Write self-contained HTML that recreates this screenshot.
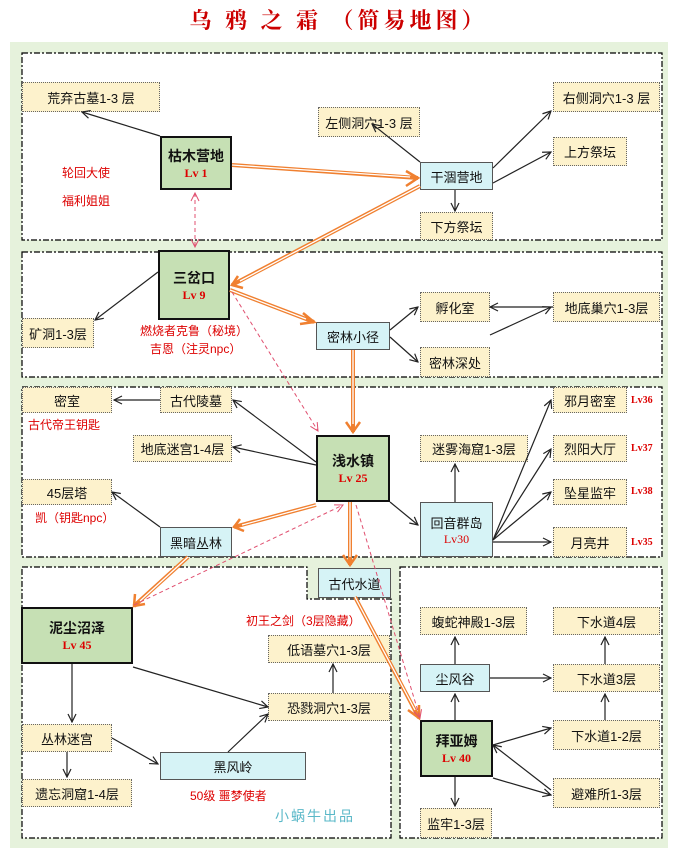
<!DOCTYPE html>
<html><head><meta charset="utf-8"><style>
body{margin:0;width:677px;height:855px;background:#fff;position:relative;overflow:hidden;font-family:"Liberation Sans","Noto Sans CJK SC",sans-serif;}
.t{position:absolute;left:0;width:677px;top:4px;text-align:center;font:bold 22px "Liberation Serif","Noto Serif CJK SC",serif;color:#c00;letter-spacing:4px}
.bg{position:absolute;left:10px;top:42px;width:658px;height:806px;background:#e6f2dc}
.b{position:absolute;box-sizing:border-box;display:flex;align-items:center;justify-content:center;flex-direction:column;font-size:13px;color:#111;white-space:nowrap}
.y{background:#fdf2cc;border:1px dotted #666}
.c{background:#d6f3f6;border:1px solid #555}
.g{background:#c6e0b4;border:2px solid #111;font-weight:bold;font-size:14px}
.g i,.c i{font-style:normal;color:#d00;font-size:12px;font-family:"Liberation Serif","Noto Serif CJK SC",serif}
.c i{font-weight:normal}
.r{position:absolute;color:#d00;font-size:12px;white-space:nowrap}
.lv{position:absolute;color:#d00;font-size:10px;font-weight:bold;font-family:"Liberation Serif",serif}
svg{position:absolute;left:0;top:0}
</style></head><body>
<div class="t">乌 鸦 之 霜 （简易地图）</div>
<div class="bg"></div>
<svg width="677" height="855">
<g fill="#fff" stroke="#000" stroke-dasharray="6,2,2,2" stroke-width="1.2">
<rect x="22" y="53" width="640" height="187"/>
<rect x="22" y="252" width="640" height="125"/>
<rect x="22" y="387" width="640" height="170"/>
<path d="M22 567H307V599H391V838H22Z"/>
<rect x="400" y="567" width="262" height="271"/>
</g>
</svg>
<div class="b y" style="left:22px;top:82px;width:138px;height:30px">荒弃古墓1-3 层</div>
<div class="b g" style="left:160px;top:136px;width:72px;height:54px">枯木营地<i>Lv 1</i></div>
<div class="r" style="left:62px;top:164px">轮回大使</div>
<div class="r" style="left:62px;top:192px">福利姐姐</div>
<div class="b y" style="left:318px;top:107px;width:102px;height:30px">左侧洞穴1-3 层</div>
<div class="b c" style="left:420px;top:162px;width:73px;height:28px">干涸营地</div>
<div class="b y" style="left:553px;top:82px;width:107px;height:30px">右侧洞穴1-3 层</div>
<div class="b y" style="left:553px;top:137px;width:74px;height:29px">上方祭坛</div>
<div class="b y" style="left:420px;top:212px;width:73px;height:28px">下方祭坛</div>

<div class="b g" style="left:158px;top:250px;width:72px;height:70px">三岔口<i>Lv 9</i></div>
<div class="b y" style="left:22px;top:318px;width:72px;height:30px">矿洞1-3层</div>
<div class="r" style="left:140px;top:322px">燃烧者克鲁（秘境）</div>
<div class="r" style="left:150px;top:340px">吉恩（注灵npc）</div>
<div class="b c" style="left:316px;top:322px;width:74px;height:28px">密林小径</div>
<div class="b y" style="left:420px;top:292px;width:70px;height:30px">孵化室</div>
<div class="b y" style="left:553px;top:292px;width:107px;height:30px">地底巢穴1-3层</div>
<div class="b y" style="left:420px;top:347px;width:70px;height:30px">密林深处</div>

<div class="b y" style="left:22px;top:387px;width:90px;height:26px">密室</div>
<div class="r" style="left:28px;top:416px">古代帝王钥匙</div>
<div class="b y" style="left:160px;top:387px;width:72px;height:26px">古代陵墓</div>
<div class="b y" style="left:133px;top:435px;width:99px;height:27px">地底迷宫1-4层</div>
<div class="b g" style="left:316px;top:435px;width:74px;height:67px">浅水镇<i>Lv 25</i></div>
<div class="b y" style="left:420px;top:435px;width:108px;height:27px">迷雾海窟1-3层</div>
<div class="b y" style="left:22px;top:479px;width:90px;height:26px">45层塔</div>
<div class="r" style="left:35px;top:509px">凯（钥匙npc）</div>
<div class="b c" style="left:160px;top:527px;width:72px;height:30px">黑暗丛林</div>
<div class="b c" style="left:420px;top:502px;width:73px;height:55px">回音群岛<i>Lv30</i></div>
<div class="b y" style="left:553px;top:387px;width:74px;height:26px">邪月密室</div>
<div class="b y" style="left:553px;top:435px;width:74px;height:27px">烈阳大厅</div>
<div class="b y" style="left:553px;top:479px;width:74px;height:26px">坠星监牢</div>
<div class="b y" style="left:553px;top:527px;width:74px;height:30px">月亮井</div>
<div class="lv" style="left:631px;top:395px">Lv36</div>
<div class="lv" style="left:631px;top:443px">Lv37</div>
<div class="lv" style="left:631px;top:486px">Lv38</div>
<div class="lv" style="left:631px;top:537px">Lv35</div>

<div class="b c" style="left:318px;top:568px;width:73px;height:30px">古代水道</div>
<div class="b g" style="left:21px;top:607px;width:112px;height:57px">泥尘沼泽<i>Lv 45</i></div>
<div class="r" style="left:246px;top:612px">初王之剑（3层隐藏）</div>
<div class="b y" style="left:268px;top:635px;width:122px;height:28px">低语墓穴1-3层</div>
<div class="b y" style="left:268px;top:693px;width:122px;height:28px">恐戮洞穴1-3层</div>
<div class="b y" style="left:22px;top:724px;width:90px;height:28px">丛林迷宫</div>
<div class="b y" style="left:22px;top:779px;width:110px;height:28px">遗忘洞窟1-4层</div>
<div class="b c" style="left:160px;top:752px;width:146px;height:28px">黑风岭</div>
<div class="r" style="left:190px;top:787px">50级 噩梦使者</div>
<div class="r" style="left:275px;top:806px;color:#5ab8c8;font-size:14px;letter-spacing:2px">小蜗牛出品</div>
<div class="b y" style="left:420px;top:607px;width:107px;height:28px">蝮蛇神殿1-3层</div>
<div class="b c" style="left:420px;top:664px;width:70px;height:28px">尘风谷</div>
<div class="b g" style="left:420px;top:720px;width:73px;height:57px">拜亚姆<i>Lv 40</i></div>
<div class="b y" style="left:420px;top:808px;width:72px;height:30px">监牢1-3层</div>
<div class="b y" style="left:553px;top:607px;width:107px;height:28px">下水道4层</div>
<div class="b y" style="left:553px;top:664px;width:107px;height:28px">下水道3层</div>
<div class="b y" style="left:553px;top:720px;width:107px;height:30px">下水道1-2层</div>
<div class="b y" style="left:553px;top:778px;width:107px;height:30px">避难所1-3层</div>

<svg width="677" height="855">
<defs>
<marker id="a" markerWidth="10" markerHeight="10" refX="9" refY="5" orient="auto" markerUnits="userSpaceOnUse"><path d="M1 1L9 5L1 9" fill="none" stroke="#222" stroke-width="1.2"/></marker>
<marker id="p" markerWidth="10" markerHeight="10" refX="9" refY="5" orient="auto" markerUnits="userSpaceOnUse"><path d="M1 1L9 5L1 9" fill="none" stroke="#e05070" stroke-width="1"/></marker>
<marker id="ps" markerWidth="10" markerHeight="10" refX="1" refY="5" orient="auto" markerUnits="userSpaceOnUse"><path d="M9 1L1 5L9 9" fill="none" stroke="#e05070" stroke-width="1"/></marker>
</defs>
<g stroke="#222" stroke-width="1.2" fill="none" marker-end="url(#a)">
<path d="M160 136L82 112"/><path d="M420 162L372 124"/><path d="M493 168L551 111"/><path d="M493 183L551 152"/><path d="M455 190V211"/>
<path d="M158 272L95 320"/><path d="M490 335L551 307"/><path d="M553 307H490"/><path d="M390 337L418 362"/><path d="M390 330L418 307"/>
<path d="M160 400H114"/><path d="M316 462L233 400"/><path d="M316 465L233 447"/><path d="M160 527L112 492"/><path d="M390 502L418 525"/><path d="M455 502V464"/>
<path d="M493 540L551 400"/><path d="M493 540L551 449"/><path d="M493 540L551 492"/><path d="M493 542H551"/>
<path d="M72 664V722"/><path d="M67 752V777"/><path d="M112 738L158 764"/><path d="M228 752L268 714"/><path d="M133 667L268 707"/><path d="M333 693V664"/>
<path d="M455 720V694"/><path d="M455 664V637"/><path d="M490 678H551"/><path d="M605 664V637"/><path d="M605 720V694"/>
<path d="M493 745L551 728"/><path d="M551 790L493 745"/><path d="M493 778L551 795"/><path d="M455 777V806"/>
</g>
<g fill="none" stroke="#f08030" stroke-width="4">
<path d="M232 165L418 178"/><path d="M420 186L232 285"/><path d="M230 290L314 322"/><path d="M353 350V432"/><path d="M316 505L234 527"/><path d="M350 502V565"/><path d="M188 557L134 606"/><path d="M355 597L419 718"/>
</g>
<g fill="none" stroke="#fff" stroke-width="1.3">
<path d="M232 165L410 177"/><path d="M420 186L240 281"/><path d="M230 290L306 319"/><path d="M353 350V424"/><path d="M316 505L242 525"/><path d="M350 502V557"/><path d="M188 557L140 601"/><path d="M355 597L415 710"/>
</g>
<g fill="none" stroke="#f08030" stroke-width="2.5">
<path d="M406 171L418 178L406 186"/><path d="M238 276L232 285L243 288"/><path d="M303 313L314 322L300 324"/><path d="M346 422L353 432L360 422"/><path d="M240 519L234 527L244 531"/><path d="M343 555L350 565L357 555"/><path d="M135 594L134 606L145 604"/><path d="M408 710L419 718L419 705"/>
</g>
<g fill="none" stroke="#e05070" stroke-width="1" stroke-dasharray="4,3">
<path d="M195 193V247" marker-end="url(#p)" marker-start="url(#ps)"/>
<path d="M232 292L318 431" marker-end="url(#p)"/>
<path d="M134 605L343 505" marker-end="url(#p)"/>
<path d="M356 505L420 718" marker-end="url(#p)"/>
</g>
</svg>
</body></html>
